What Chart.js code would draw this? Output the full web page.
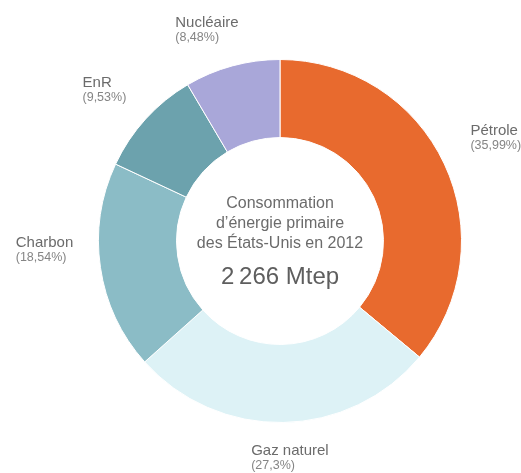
<!DOCTYPE html>
<html>
<head>
<meta charset="utf-8">
<script src="https://cdn.jsdelivr.net/npm/chart.js@4/dist/chart.umd.min.js"></script>
<style>
html,body{margin:0;padding:0;background:#fff;}
canvas{display:block;}
</style>
</head>
<body>
<canvas id="c" width="521" height="473"></canvas>
<script>
const categories = ["Pétrole", "Gaz naturel", "Charbon", "EnR", "Nucléaire"];
const values = [35.99, 27.3, 18.54, 9.53, 8.48];
const pctLabels = ["(35,99%)", "(27,3%)", "(18,54%)", "(9,53%)", "(8,48%)"];
const centerLines = ["Consommation", "d\u2019énergie primaire", "des États-Unis en 2012"];
const totalLabel = "2\u2009266 Mtep";
const colors = ["#E86A2E", "#DDF2F6", "#8BBCC6", "#6CA2AD", "#A9A7D9"];

// label layout: [left x offset, name baseline offset] in units of outer radius from centre
const labelLayout = [[1.049, -0.582], [-0.159, 1.181], [-1.456, 0.033], [-1.088, -0.846], [-0.577, -1.181]];

const FONT = '"Liberation Sans", Arial, Helvetica, sans-serif';

const labelPlugin = {
  id: 'labels',
  afterDraw(chart) {
    const ctx = chart.ctx;
    const meta = chart.getDatasetMeta(0);
    const arc0 = meta.data[0];
    const cx = arc0.x, cy = arc0.y, R = arc0.outerRadius;
    ctx.save();
    ctx.textBaseline = 'alphabetic';
    meta.data.forEach((arc, i) => {
      const lx = cx + labelLayout[i][0] * R;
      const ly = cy + labelLayout[i][1] * R;
      ctx.textAlign = 'left';
      ctx.fillStyle = '#6b6b6b';
      ctx.font = '15px ' + FONT;
      ctx.fillText(categories[i], lx, ly);
      ctx.fillStyle = '#858585';
      ctx.font = '12.5px ' + FONT;
      ctx.fillText(pctLabels[i], lx, ly + 14);
    });
    // centre text
    ctx.textAlign = 'center';
    ctx.fillStyle = '#6b6b6b';
    ctx.font = '16px ' + FONT;
    centerLines.forEach((t, k) => ctx.fillText(t, cx, cy - 33 + k * 20));
    ctx.fillStyle = '#5e5e5e';
    ctx.font = '24px ' + FONT;
    ctx.fillText(totalLabel, cx, cy + 43);
    ctx.restore();
  }
};

new Chart(document.getElementById('c'), {
  type: 'doughnut',
  data: {
    labels: categories,
    datasets: [{
      data: values,
      backgroundColor: colors,
      borderColor: '#ffffff',
      borderWidth: 1
    }]
  },
  options: {
    responsive: false,
    animation: false,
    cutout: '57%',
    layout: { padding: { left: 98, right: 59, top: 59, bottom: 50 } },
    plugins: { legend: { display: false }, tooltip: { enabled: false } }
  },
  plugins: [labelPlugin]
});
</script>
</body>
</html>
